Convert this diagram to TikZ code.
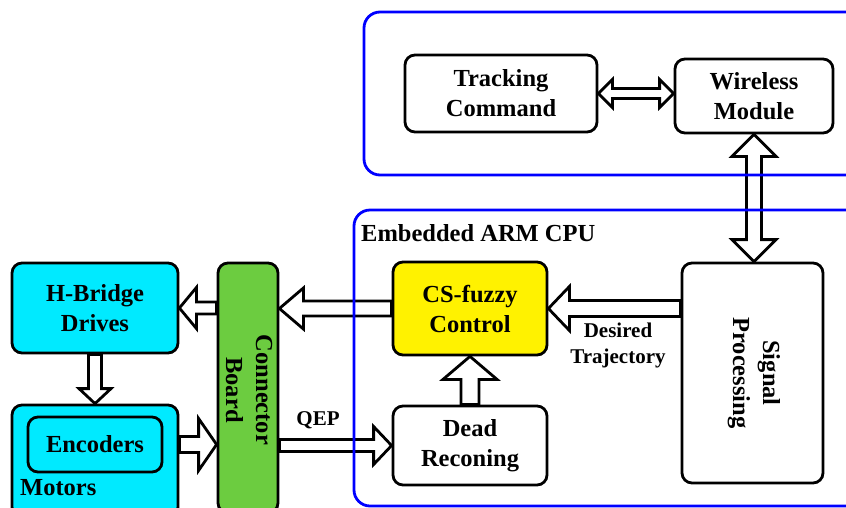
\documentclass[tikz,border=0pt]{standalone}
\usepackage{fontspec}
\setmainfont{Liberation Serif}
\usetikzlibrary{calc,backgrounds}
\definecolor{boxcyan}{RGB}{0,234,255}
\definecolor{boardgreen}{RGB}{108,204,64}
\definecolor{frameblue}{RGB}{0,0,255}
\tikzset{
 blk/.style={draw=black, line width=2.8pt, rounded corners=10pt, inner sep=0pt, align=center, font=\fontsize{24.5}{30}\selectfont\bfseries},
 txt/.style={inner sep=0pt, align=center, font=\fontsize{24.5}{30}\selectfont\bfseries},
 smalltxt/.style={inner sep=0pt, align=center, font=\fontsize{21}{26}\selectfont\bfseries},
 bluefr/.style={draw=frameblue, line width=2.8pt, rounded corners=16pt},
 barrow/.style={draw=black, fill=white, line width=2.8pt, line join=miter},
}
\newcommand\oneway[5]{%
 \coordinate (hB) at ($(#2)!#5!(#1)$);
 \draw[barrow] ($(#1)!#3!90:(#2)$) -- ($(hB)!#3!90:(#2)$) -- ($(hB)!#4!90:(#2)$) -- (#2) -- ($(hB)!#4!-90:(#2)$) -- ($(hB)!#3!-90:(#2)$) -- ($(#1)!#3!-90:(#2)$) -- cycle;}
\newcommand\twoway[5]{%
 \coordinate (hA) at ($(#1)!#5!(#2)$);
 \coordinate (hB) at ($(#2)!#5!(#1)$);
 \draw[barrow] (#1) -- ($(hA)!#4!90:(#2)$) -- ($(hA)!#3!90:(#2)$) -- ($(hB)!#3!90:(#2)$) -- ($(hB)!#4!90:(#2)$) -- (#2) -- ($(hB)!#4!-90:(#2)$) -- ($(hB)!#3!-90:(#2)$) -- ($(hA)!#3!-90:(#2)$) -- ($(hA)!#4!-90:(#2)$) -- cycle;}
\begin{document}
\begin{tikzpicture}[x=1pt,y=1pt]
\useasboundingbox (0,0) rectangle (846,-507);
% nodes
\node[blk, minimum width=192pt, minimum height=77pt] (tc) at (501,-93.5) {Tracking\\Command};
\node[blk, minimum width=158pt, minimum height=74pt] (wm) at (754,-96) {Wireless\\Module};
\node[blk, minimum width=141pt, minimum height=220pt] (sp) at (752.5,-373) {};
\node[txt, rotate=-90] (spt) at (754,-373) {Signal\\Processing};
\node[blk, fill=yellow, minimum width=154pt, minimum height=93pt] (cs) at (470,-308.5) {CS-fuzzy\\Control};
\node[blk, minimum width=154pt, minimum height=79pt] (dr) at (470,-445.5) {Dead\\Reconing};
\node[blk, fill=boardgreen, minimum width=60pt, minimum height=250pt] (cb) at (248,-388) {};
\node[txt, rotate=-90] (cbt) at (249,-390) {Connector\\Board};
\node[blk, fill=boxcyan, minimum width=166pt, minimum height=90pt] (hb) at (95,-308) {H-Bridge\\Drives};
\node[blk, fill=boxcyan, minimum width=166pt, minimum height=112pt] (mo) at (95,-461) {};
\node[blk, fill=boxcyan, minimum width=134pt, minimum height=55pt] (en) at (95,-444.5) {Encoders};
\node[txt, anchor=base west] (mot) at (20,-495) {Motors};
\node[txt, anchor=west] (cpu) at (361,-233) {Embedded ARM CPU};
\node[smalltxt] (dt) at (618,-345) {Desired\\Trajectory};
\node[smalltxt] (qep) at (318,-420) {QEP};
\begin{pgfonlayer}{background}
\fill[white] (0,0) rectangle (846,-507);
\coordinate (a1) at (sp.west |- cs.east);
\oneway{a1}{cs.east}{8pt}{22pt}{21pt}
\coordinate (a2) at (cb.east |- cs.west);
\oneway{cs.west}{a2}{7.5pt}{20.5pt}{24pt}
\coordinate (a3) at (cb.west |- hb.east);
\oneway{a3}{hb.east}{6pt}{20.5pt}{17pt}
\oneway{hb.south}{mo.north}{6.5pt}{16pt}{15pt}
\coordinate (a4) at (mo.east |- en.east);
\coordinate (a5) at (cb.west |- en.east);
\oneway{a4}{a5}{8pt}{26pt}{18pt}
\coordinate (a6) at (cb.east |- dr.west);
\oneway{a6}{dr.west}{6pt}{19pt}{18pt}
\oneway{dr.north}{cs.south}{9pt}{27pt}{23pt}
\coordinate (a7) at (wm.west |- tc.east);
\twoway{tc.east}{a7}{5pt}{14pt}{14pt}
\coordinate (a8) at (wm.south |- sp.north);
\twoway{wm.south}{a8}{7.5pt}{22pt}{22pt}
\draw[bluefr] (364,-12) rectangle (880,-175);
\draw[bluefr] (354,-210) rectangle (880,-506);
\end{pgfonlayer}
\end{tikzpicture}
\end{document}
